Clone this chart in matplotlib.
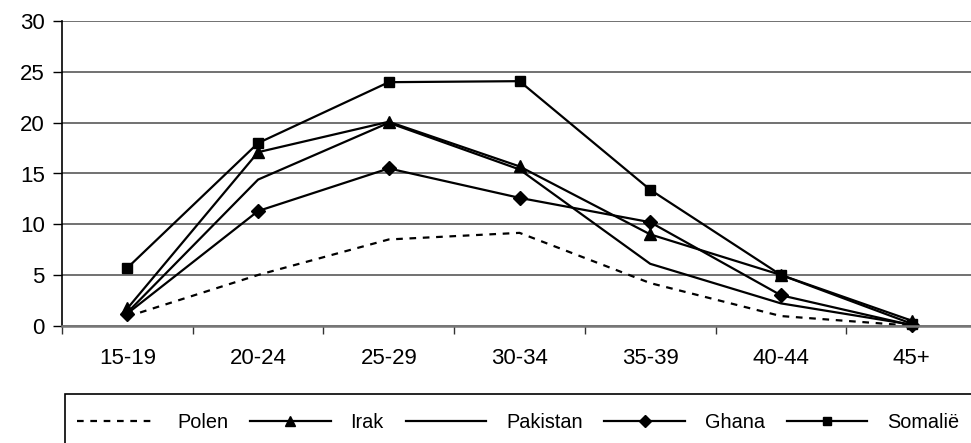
import matplotlib
matplotlib.use("Agg")
import matplotlib.pyplot as plt
from matplotlib.patches import Rectangle
from matplotlib.ticker import FixedLocator

plt.rcParams['font.family'] = ['Liberation Sans', 'DejaVu Sans']

age_groups = ['15-19', '20-24', '25-29', '30-34', '35-39', '40-44', '45+']
polen = [0.9, 5.0, 8.5, 9.15, 4.2, 0.95, 0.0]
irak = [1.7, 17.1, 20.1, 15.7, 9.0, 5.0, 0.5]
pakistan = [1.3, 14.4, 20.0, 15.4, 6.1, 2.2, 0.1]
ghana = [1.2, 11.3, 15.5, 12.6, 10.2, 3.0, 0.05]
somalie = [5.7, 18.0, 24.0, 24.1, 13.4, 5.0, 0.2]

fs = 16
leg_fs = 14.3
W, H = 971, 443
fig = plt.figure(figsize=(W / 100, H / 100), dpi=100)
ax = fig.add_axes([62 / W, 1 - 325.7 / H, 915 / W, (325.7 - 21.3) / H])

x = list(range(len(age_groups)))
lw = 1.6
ax.plot(x, polen, color='black', lw=lw, dashes=(3, 3), label='Polen', clip_on=False)
ax.plot(x, irak, color='black', lw=lw, marker='^', ms=9, label='Irak', clip_on=False)
ax.plot(x, pakistan, color='black', lw=lw, label='Pakistan', clip_on=False)
ax.plot(x, ghana, color='black', lw=lw, marker='D', ms=7.5, label='Ghana', clip_on=False)
ax.plot(x, somalie, color='black', lw=lw, marker='s', ms=7, label='Somalië', clip_on=False)

ax.set_xlim(-0.5, len(age_groups) - 0.5)
ax.set_ylim(0, 30)
ax.set_yticks(range(0, 31, 5))
ax.yaxis.grid(True, color='#4a4a4a', lw=1.1)
ax.set_axisbelow(True)

ax.set_xticks(x)
ax.set_xticklabels(age_groups, fontsize=fs)
ax.xaxis.set_minor_locator(FixedLocator([i - 0.5 for i in range(len(age_groups) + 1)]))
ax.tick_params(axis='x', which='major', length=0, pad=16)
ax.tick_params(axis='x', which='minor', length=6, width=1, color='#333333')
ax.tick_params(axis='y', length=6.5, width=1, pad=6, labelsize=fs)

for s in ['top', 'right']:
    ax.spines[s].set_visible(False)
ax.spines['left'].set_color('black')
ax.spines['left'].set_linewidth(1.2)
ax.spines['bottom'].set_color('#777777')
ax.spines['bottom'].set_linewidth(1.8)

# legend box runs off the right and bottom edges, as in the original
fig.patches.append(Rectangle((65 / W, -0.2), 1.0, (1 - 394 / H) + 0.2,
                             transform=fig.transFigure, fill=False,
                             ec='black', lw=1.2))
fig.legend(loc='center left', bbox_to_anchor=(77 / W, 1 - 422 / H),
           ncol=5, fontsize=leg_fs, frameon=False, markerscale=0.75,
           handlelength=4.05, handletextpad=1.0, columnspacing=1.1,
           borderpad=0, borderaxespad=0)

fig.savefig('out.png', dpi=100)
